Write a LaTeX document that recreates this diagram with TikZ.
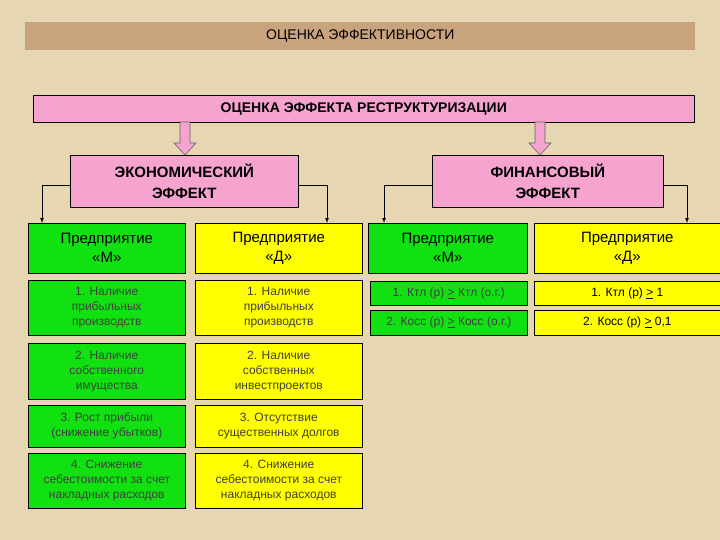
\documentclass[tikz,border=0pt]{standalone}
\usepackage{fontspec}
\setmainfont{Liberation Sans}
\definecolor{bg}{HTML}{E6D6B2}
\definecolor{ttl}{HTML}{C9A27E}
\definecolor{pnk}{HTML}{F5A3CF}
\definecolor{grn}{HTML}{11E011}
\definecolor{yel}{HTML}{FFFF00}
\tikzset{
 box/.style={draw=black,line width=0.6pt,inner sep=1pt,align=center},
 ge/.style={box,fill=grn},
 ye/.style={box,fill=yel},
 hd/.style={font=\fontsize{15}{19}\selectfont},
 sm/.style={font=\fontsize{12}{15}\selectfont,text=black!75},
 con/.style={draw=black,line width=0.7pt,-latex},
 parr/.style={draw=black!60,fill=pnk,line width=0.6pt}
}
\newcommand{\bx}[6]{\node[#1,minimum width=#4pt-#2pt,minimum height=#5pt-#3pt,anchor=north west] (#6) at (#2pt,-#3pt)}
\newcommand{\parrow}[1]{\filldraw[parr] (#1pt-5pt,-122pt) -- (#1pt+5pt,-122pt) -- (#1pt+5pt,-143pt) -- (#1pt+11pt,-143pt) -- (#1pt,-155pt) -- (#1pt-11pt,-143pt) -- (#1pt-5pt,-143pt) -- cycle;}
\begin{document}
\begin{tikzpicture}
\fill[bg] (0,0) rectangle (720pt,-540pt);
\useasboundingbox (0,0) rectangle (720pt,-540pt);
\bx{box,fill=ttl,draw=none,font=\fontsize{14}{16}\selectfont}{25}{22}{695}{50}{t}{ОЦЕНКА ЭФФЕКТИВНОСТИ};
\bx{box,fill=pnk,font=\bfseries\fontsize{14}{16}\selectfont}{33}{95}{694}{122}{r}{ОЦЕНКА ЭФФЕКТА РЕСТРУКТУРИЗАЦИИ};
\bx{box,fill=pnk,font=\bfseries\fontsize{15}{21}\selectfont}{70}{155}{298}{207}{e}{ЭКОНОМИЧЕСКИЙ\\ЭФФЕКТ};
\bx{box,fill=pnk,font=\bfseries\fontsize{15}{21}\selectfont}{432}{155}{663}{207}{f}{ФИНАНСОВЫЙ\\ЭФФЕКТ};
\parrow{185}
\parrow{540}
% headers
\bx{ge,hd}{28}{223}{185}{273}{h1}{Предприятие\\«М»};
\bx{ye,hd}{195}{223}{362}{273}{h2}{Предприятие\\«Д»};
\bx{ge,hd}{368}{223}{527}{273}{h3}{Предприятие\\«М»};
\bx{ye,hd}{534}{223}{720}{273}{h4}{Предприятие\\«Д»};
\draw[con] (e.west|-0,-185pt) -| (h1.north-|42pt,0);
\draw[con] (e.east|-0,-185pt) -| (h2.north-|327pt,0);
\draw[con] (f.west|-0,-185pt) -| (h3.north-|384pt,0);
\draw[con] (f.east|-0,-185pt) -| (h4.north-|687pt,0);
% left rows
\bx{ge,sm}{28}{280}{185}{335}{g1}{1. Наличие\\прибыльных\\производств};
\bx{ye,sm}{195}{280}{362}{335}{y1}{1. Наличие\\прибыльных\\производств};
\bx{ge,sm}{28}{343}{185}{399}{g2}{2. Наличие\\собственного\\имущества};
\bx{ye,sm}{195}{343}{362}{399}{y2}{2. Наличие\\собственных\\инвестпроектов};
\bx{ge,sm}{28}{405}{185}{447}{g3}{3. Рост прибыли\\(снижение убытков)};
\bx{ye,sm}{195}{405}{362}{447}{y3}{3. Отсутствие\\существенных долгов};
\bx{ge,sm}{28}{453}{185}{508}{g4}{4. Снижение\\себестоимости за счет\\накладных расходов};
\bx{ye,sm}{195}{453}{362}{508}{y4}{4. Снижение\\себестоимости за счет\\накладных расходов};
% right rows
\bx{ge,sm}{370}{281}{527}{305}{k1}{1. Ктл (р) \underline{>} Ктл (о.г.)};
\bx{ge,sm}{370}{310}{527}{335}{k2}{2. Косс (р) \underline{>} Косс (о.г.)};
\bx{ye,sm,text=black}{534}{281}{720}{305}{k3}{1. Ктл (р) \underline{>} 1};
\bx{ye,sm,text=black}{534}{310}{720}{335}{k4}{2. Косс (р) \underline{>} 0,1};
\end{tikzpicture}
\end{document}
